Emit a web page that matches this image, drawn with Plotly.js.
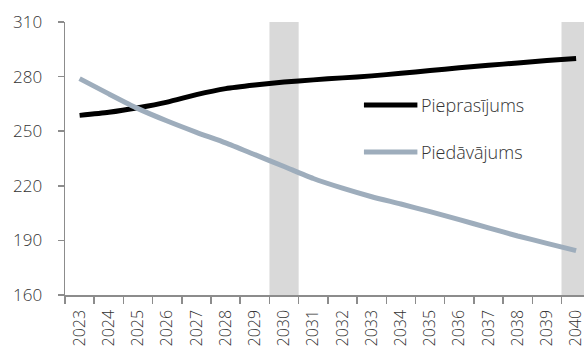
<!DOCTYPE html>
<html>
<head>
<meta charset="utf-8">
<script src="https://cdn.plot.ly/plotly-3.0.1.min.js"></script>
<style>html,body{margin:0;padding:0;background:#fff;}#chart{width:584px;height:348px;}</style>
</head>
<body>
<div id="chart"></div>
<script>
const years = ['2023','2024','2025','2026','2027','2028','2029','2030','2031','2032','2033','2034','2035','2036','2037','2038','2039','2040'];
const demandName = 'Pieprasījums';
const supplyName = 'Piedāvājums';
const demand = [258.7, 260.4, 262.9, 266.0, 270.1, 273.4, 275.4, 277.0, 278.2, 279.3, 280.4, 281.8, 283.3, 284.8, 286.2, 287.5, 288.8, 290.0];
const supply = [278.9, 270.5, 262.4, 255.6, 249.4, 243.6, 237.1, 230.6, 224.0, 218.7, 214.0, 210.0, 205.8, 201.4, 196.9, 192.4, 188.4, 184.4];
const shadedYears = ['2030', '2040'];
const yTicks = [160, 190, 220, 250, 280, 310];

const font = {family: '"Open Sans", sans-serif', color: '#333333', weight: 300};
const demandColor = '#000000';
const supplyColor = '#9eadbc';

const traces = [
  {x: years, y: demand, name: demandName, type: 'scatter', mode: 'lines',
   line: {color: demandColor, width: 5, shape: 'spline', smoothing: 0.6}, showlegend: false, hoverinfo: 'skip'},
  {x: years, y: supply, name: supplyName, type: 'scatter', mode: 'lines',
   line: {color: supplyColor, width: 5, shape: 'spline', smoothing: 0.6}, showlegend: false, hoverinfo: 'skip'}
];

const shapes = shadedYears.map(yr => {
  const i = years.indexOf(yr);
  return {type: 'rect', xref: 'x', yref: 'paper', x0: i - 0.5, x1: i + 0.5, y0: 0, y1: 1,
          fillcolor: '#d9d9d9', line: {width: 0}, layer: 'below'};
});

// legend
const legendItems = [
  {name: demandName, color: demandColor, y: 0.696},
  {name: supplyName, color: supplyColor, y: 0.524}
];
const annotations = [];
legendItems.forEach(it => {
  shapes.push({type: 'line', xref: 'paper', yref: 'paper', x0: 0.576, x1: 0.679, y0: it.y, y1: it.y,
               line: {color: it.color, width: 5}});
  annotations.push({xref: 'paper', yref: 'paper', x: 0.683, y: it.y, xanchor: 'left', yanchor: 'middle',
                    text: it.name, showarrow: false, font: {family: font.family, size: 18, color: '#333333', weight: 300}});
});

const layout = {
  width: 584, height: 348,
  margin: {l: 65, r: 0, t: 22, b: 53, pad: 0},
  paper_bgcolor: '#ffffff', plot_bgcolor: 'rgba(0,0,0,0)',
  font: font,
  showlegend: false,
  xaxis: {
    type: 'category', range: [-0.5, 17.27], tickson: 'boundaries',
    ticks: 'outside', ticklen: 7, tickcolor: '#8c8c8c', tickwidth: 1.5,
    showline: true, linecolor: '#8c8c8c', linewidth: 1.5,
    showgrid: false, zeroline: false, tickangle: -90,
    tickfont: {family: font.family, size: 16, color: '#333333', weight: 300},
    ticklabelstandoff: 7, fixedrange: true
  },
  yaxis: {
    range: [160, 310], tickvals: yTicks, ticktext: yTicks.map(String),
    ticks: 'outside', ticklen: 6, tickcolor: '#8c8c8c', tickwidth: 1.5,
    showline: true, linecolor: '#8c8c8c', linewidth: 1.5,
    showgrid: false, zeroline: false,
    tickfont: {family: font.family, size: 17, color: '#333333', weight: 300},
    ticklabelstandoff: 12, fixedrange: true
  },
  shapes: shapes,
  annotations: annotations
};

Plotly.newPlot('chart', traces, layout, {displayModeBar: false, staticPlot: true});
</script>
</body>
</html>
